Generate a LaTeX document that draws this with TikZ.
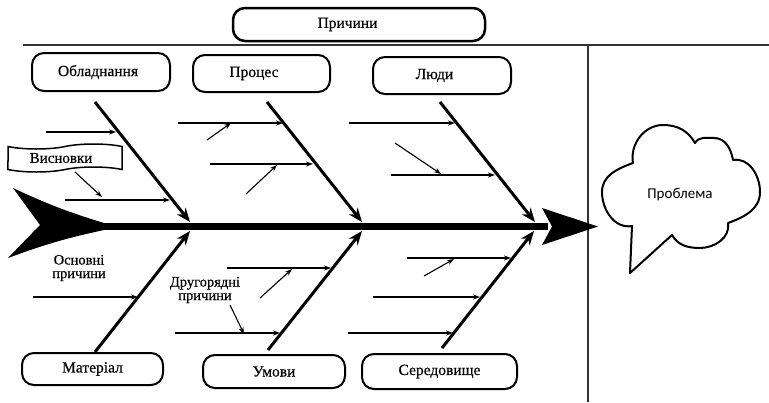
\documentclass[tikz,border=0pt]{standalone}
\usepackage{fontspec}
\setmainfont{Liberation Serif}
\newfontfamily\tnr[FakeBold=0.45]{Liberation Serif}
\newfontfamily\probfont{Carlito}
\usetikzlibrary{arrows.meta,shapes.symbols}
\begin{document}
\begin{tikzpicture}[x=1pt,y=1pt,
  cat/.style={draw, line width=2pt, rounded corners=12pt, inner sep=0pt,
    font=\tnr\fontsize{15.5}{17}\selectfont},
  bone/.style={line width=3pt, -{Stealth[length=14pt,width=11pt]}},
  sub/.style={line width=1.1pt, -{Stealth[length=7pt,width=5pt]}},
  lbl/.style={font=\tnr\fontsize{14.5}{13.5}\selectfont, align=center, inner sep=0pt},
  frame/.style={line width=1.5pt, black!80},
]
\useasboundingbox (0,0) rectangle (769,-402);

% frame lines
\coordinate (hl) at (23,-45);
\coordinate (hr) at (769,-45);
\coordinate (vt) at (588,-45);
\coordinate (vb) at (588,-402);
\draw[frame] (hl) -- (hr);
\draw[frame] (vt) -- (vb);

% title box
\node[cat, line width=2.5pt, minimum width=252pt, minimum height=33pt] (causes) at (359,-24.5) {Причини\hspace*{23pt}};

% category boxes
\node[cat, minimum width=138pt, minimum height=38pt] (equip) at (101,-72) {Обладнання\hspace*{6pt}};
\node[cat, minimum width=137pt, minimum height=37pt] (proc) at (261.5,-73.5) {Процес\hspace*{15pt}};
\node[cat, minimum width=138pt, minimum height=37pt] (people) at (442,-75.5) {Люди\hspace*{15pt}};
\node[cat, minimum width=141pt, minimum height=32pt] (mat) at (92.5,-369) {Матеріал};
\node[cat, minimum width=142pt, minimum height=33pt] (cond) at (274,-371.5) {Умови};
\node[cat, minimum width=155pt, minimum height=35pt] (env) at (439.5,-371.5) {Середовище};

% spine
\coordinate (tail) at (103,-226.5);
\coordinate (head) at (548,-226.5);
\fill (13,-188) to[bend right=4] (104,-223) -- (104,-230) to[bend right=4] (8,-258) -- (40,-225) -- cycle;
\draw[line width=7pt] (tail) -- (head);
\fill (542,-208) -- (598,-226.5) -- (542,-245) -- (552,-226.5) -- cycle;

% bone joints
\coordinate (j1t) at (190,-222);
\coordinate (j2t) at (362,-222);
\coordinate (j3t) at (535,-222);
\coordinate (j1b) at (190,-231);
\coordinate (j2b) at (362,-231);
\coordinate (j3b) at (534,-231);
\coordinate (b1) at (95,-102);
\coordinate (b2) at (267,-102);
\coordinate (b3) at (440,-102);
\coordinate (b4) at (95,-352);
\coordinate (b5) at (268,-350);
\coordinate (b6) at (442,-348);
\draw[bone] (b1) -- (j1t);
\draw[bone] (b2) -- (j2t);
\draw[bone] (b3) -- (j3t);
\draw[bone] (b4) -- (j1b);
\draw[bone] (b5) -- (j2b);
\draw[bone] (b6) -- (j3b);

% conclusions banner
\node[tape, draw, line width=1.5pt, minimum width=114pt, minimum height=28pt,
  tape bend height=5pt, font=\tnr\fontsize{15}{14}\selectfont, inner sep=0pt] (concl) at (65,-158) {Висновки\hspace*{8pt}};

% labels
\node[lbl] (mainc) at (79,-268) {Основні\\причини};
\node[lbl] (secc) at (205,-290) {Другорядні\\причини};

% sub-cause arrows
\coordinate (a1s) at (46,-132);  \coordinate (a1e) at (116,-132);
\coordinate (a2s) at (65,-200);  \coordinate (a2e) at (170,-200);
\coordinate (a3s) at (75,-172);  \coordinate (a3e) at (102,-197);
\coordinate (a4s) at (178,-123); \coordinate (a4e) at (283,-123);
\coordinate (a5s) at (207,-140); \coordinate (a5e) at (231,-123);
\coordinate (a6s) at (210,-164); \coordinate (a6e) at (313,-164);
\coordinate (a7s) at (246,-194); \coordinate (a7e) at (277,-165);
\coordinate (a8s) at (349,-123); \coordinate (a8e) at (455,-123);
\coordinate (a9s) at (395,-143); \coordinate (a9e) at (441,-174);
\coordinate (a10s) at (391,-175); \coordinate (a10e) at (495,-175);
\coordinate (a11s) at (33,-297); \coordinate (a11e) at (138,-297);
\coordinate (a12s) at (227,-268); \coordinate (a12e) at (331,-268);
\coordinate (a13s) at (260,-298); \coordinate (a13e) at (292,-269);
\coordinate (a14s) at (230,-305); \coordinate (a14e) at (244,-334);
\coordinate (a15s) at (175,-333); \coordinate (a15e) at (280,-333);
\coordinate (a16s) at (407,-258); \coordinate (a16e) at (511,-258);
\coordinate (a17s) at (424,-276); \coordinate (a17e) at (454,-259);
\coordinate (a18s) at (373,-297); \coordinate (a18e) at (480,-297);
\coordinate (a19s) at (348,-333); \coordinate (a19e) at (453,-333);
\foreach \i in {1,...,19} {\draw[sub] (a\i s) -- (a\i e);}

% problem cloud
\draw[line width=2pt, line join=round]
  (632,-226) to[out=190,in=270] (602,-192) to[out=90,in=200] (633,-163)
  to[out=100,in=180] (663,-125) to[out=0,in=120] (695,-143)
  to[out=60,in=180] (714,-138) to[out=0,in=100] (733,-160)
  to[out=10,in=90] (760,-192) to[out=270,in=20] (728,-223)
  to[out=280,in=0] (700,-248) to[out=180,in=300] (672,-235)
  -- (630,-273) -- cycle;
\node[font=\probfont\fontsize{15}{17}\selectfont] (prob) at (680,-195) {Проблема};
\end{tikzpicture}
\end{document}
